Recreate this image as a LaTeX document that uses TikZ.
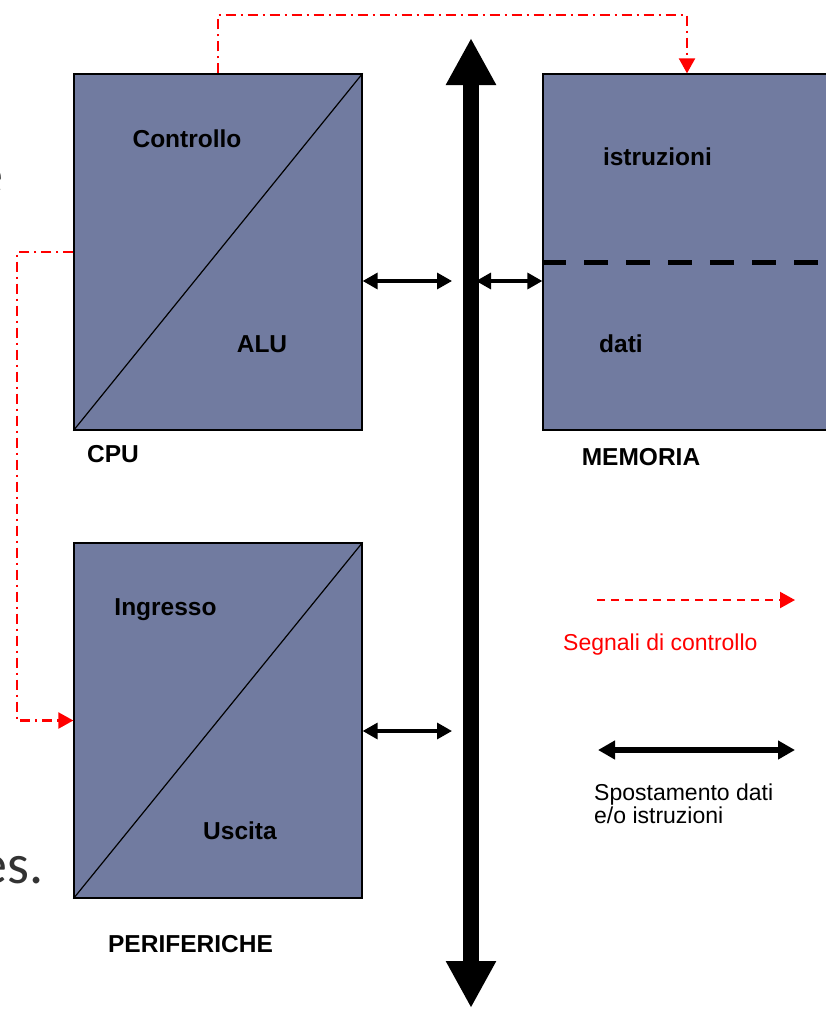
\documentclass[tikz,border=0pt]{standalone}
\usepackage{fontspec}
\setmainfont{Liberation Sans}
\newfontfamily\slidefont{Carlito}
\usetikzlibrary{arrows.meta}
\definecolor{boxblue}{RGB}{113,123,160}
\tikzset{
  unit/.style={draw=black,line width=1.3pt,fill=boxblue,minimum width=288pt,minimum height=356pt,inner sep=0pt},
  lbl/.style={anchor=base,inner sep=0pt,font=\fontsize{24.5}{28}\selectfont\bfseries},
  legtext/.style={anchor=base west,inner sep=0pt,font=\fontsize{23}{24}\selectfont},
  data/.style={<->,line width=3.3pt,>={Triangle[length=15pt,width=16pt]}},
  move/.style={<->,line width=5.5pt,>={Triangle[length=17pt,width=18pt]}},
  bus/.style={<->,line width=16pt,>={Triangle[length=47pt,width=47pt]}},
  ctrl/.style={->,red,line width=2.2pt,dash pattern=on 10pt off 5pt on 2pt off 5pt,>={Triangle[length=15pt,width=16pt]}},
  sig/.style={->,red,line width=2.2pt,dash pattern=on 8pt off 6pt,>={Triangle[length=15pt,width=16pt]}},
}
\begin{document}
\begin{tikzpicture}[x=1pt,y=-1pt,line join=miter]
        \useasboundingbox (0,0) rectangle (825,1009);
        % slide text cut at the left border
        \node[anchor=base east,inner sep=0pt,text=black!80,font=\slidefont\fontsize{56}{60}\selectfont] (frag1) at (4,193) {e};
        \node[anchor=base east,inner sep=0pt,text=black!80,font=\slidefont\fontsize{56}{60}\selectfont] (frag2) at (44,883) {es.};
        % blocks
        \node[unit] (cpu) at (218,252) {};
        \node[unit,minimum height=355pt] (per) at (218,720.5) {};
        \node[unit,minimum width=300pt] (mem) at (693,252) {};
        \draw[line width=1.2pt] (cpu.south west) -- (cpu.north east);
        \draw[line width=1.2pt] (per.south west) -- (per.north east);
        \draw[line width=5pt,dash pattern=on 24pt off 18pt] (mem.west |- 0,262) -- (mem.east |- 0,262);
        \node[lbl] (ctl) at (187,147) {Controllo};
        \node[lbl] (alu) at (262,352) {ALU};
        \node[lbl] (cpulbl) at (113,462) {CPU};
        \node[lbl] (in) at (165.5,615) {Ingresso};
        \node[lbl] (out) at (240,839) {Uscita};
        \node[lbl] (perlbl) at (190.5,952) {PERIFERICHE};
        \node[lbl] (ins) at (657.5,165) {istruzioni};
        \node[lbl] (dat) at (621,352) {dati};
        \node[lbl] (memlbl) at (641,465) {MEMORIA};
        % bus
        \coordinate (bustop) at (471,38);
        \coordinate (busbot) at (471,1008);
        \draw[bus] (bustop) -- (busbot);
        \coordinate (dcpu) at (452,281);
        \coordinate (dmem) at (476,281);
        \coordinate (dper) at (452,731);
        \draw[data] (cpu.east |- dcpu) -- (dcpu);
        \draw[data] (dmem) -- (dmem -| mem.west);
        \draw[data] (per.east |- dper) -- (dper);
        % control signals
        \coordinate (ctop) at (687,15);
        \coordinate (cleft) at (17,253);
        \draw[ctrl] (cpu.north) |- (ctop) -- (ctop |- mem.north);
        \draw[ctrl] (cpu.west) -- (cpu.west -| cleft) |- (per.west);
        % legend
        \coordinate (siga) at (597,600);
        \coordinate (sigb) at (795,600);
        \draw[sig] (siga) -- (sigb);
        \node[legtext,text=red] (siglbl) at (563,650) {Segnali di controllo};
        \coordinate (mova) at (598,750);
        \coordinate (movb) at (795,750);
        \draw[move] (mova) -- (movb);
        \node[legtext] (movlbl1) at (594,800) {Spostamento dati};
        \node[legtext] (movlbl2) at (594,823) {e/o istruzioni};
\end{tikzpicture}
\end{document}
